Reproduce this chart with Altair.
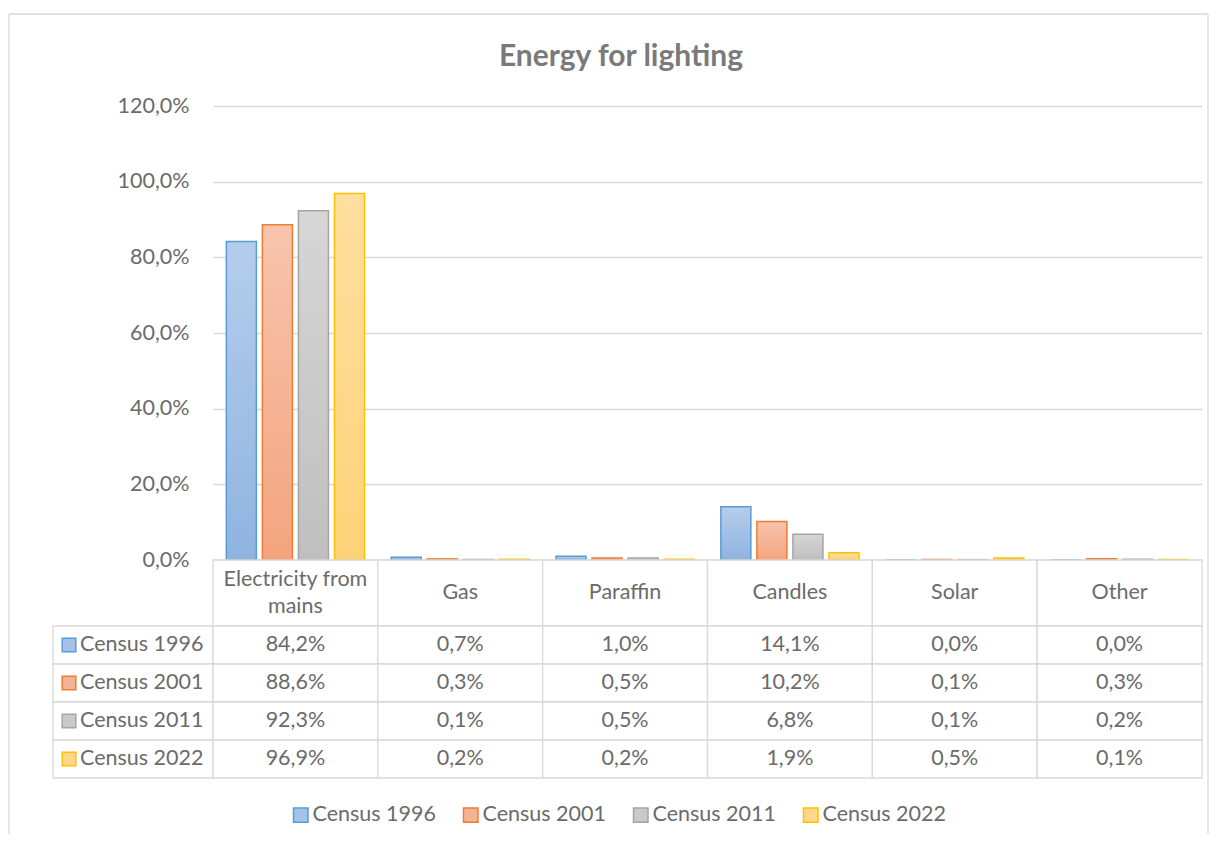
import altair as alt
import pandas as pd

title_text = "Energy for lighting"
categories = ["Electricity from mains", "Gas", "Paraffin", "Candles", "Solar", "Other"]
header_labels = ["Electricity from\nmains", "Gas", "Paraffin", "Candles", "Solar", "Other"]
series = ["Census 1996", "Census 2001", "Census 2011", "Census 2022"]
values_1996 = [84.2, 0.7, 1.0, 14.1, 0.0, 0.0]
values_2001 = [88.6, 0.3, 0.5, 10.2, 0.1, 0.3]
values_2011 = [92.3, 0.1, 0.5, 6.8, 0.1, 0.2]
values_2022 = [96.9, 0.2, 0.2, 1.9, 0.5, 0.1]
y_ticks = [0, 20, 40, 60, 80, 100, 120]

fill_colors = ["#A5C2E8", "#F5B396", "#C9C9C9", "#FED78A"]
grad_top = ["#B5CDEB", "#F7C4AD", "#D6D6D6", "#FEDFA0"]
grad_bottom = ["#8FB4E0", "#F4A47E", "#BFBFBF", "#FED278"]
stroke_colors = ["#5B9BD5", "#ED7D31", "#A5A5A5", "#FFC000"]

rows = []
for s, vals in zip(series, [values_1996, values_2001, values_2011, values_2022]):
    for c, v in zip(categories, vals):
        rows.append({"category": c, "series": s, "value": v})
df = pd.DataFrame(rows)
header_df = pd.DataFrame({"category": categories, "label": header_labels})
series_df = pd.DataFrame({"series": series})
title_df = pd.DataFrame({"title": [title_text]})
one_df = pd.DataFrame({"k": [0]})

FONT = "Lato"
TXT = "#6B6B6B"
GRID = "#D9D9D9"
FS = 21.5
W = 989
PCT = "replace(format(datum.value, '.1f'), '.', ',') + '%'"

x_scale = alt.Scale(domain=categories, paddingInner=0, paddingOuter=0)
fill_scale = alt.Scale(domain=series, range=fill_colors)
stroke_scale = alt.Scale(domain=series, range=stroke_colors)
legend = alt.Legend(
    title=None, orient="none", direction="horizontal", legendX=77, legendY=698,
    symbolType="square", symbolSize=210, symbolStrokeWidth=1.5,
    labelFontSize=FS, labelColor=TXT, labelFont=FONT, columnPadding=24, labelOffset=1,
)

def xenc():
    return alt.X("category:N", scale=x_scale, sort=categories, axis=None)

x_bar = alt.X("category:N", scale=x_scale, sort=categories,
              axis=alt.Axis(labels=False, ticks=False, title=None, domainColor=GRID, domainWidth=1.3))
xoff = alt.XOffset("series:N", sort=series,
                   scale=alt.Scale(domain=series, paddingInner=0.167, paddingOuter=0.37))
y_bar = alt.Y("value:Q", scale=alt.Scale(domain=[0, 120], nice=False),
              axis=alt.Axis(values=y_ticks, labelExpr=PCT, title=None, domain=False, ticks=False,
                            gridColor=GRID, gridWidth=1.3, labelFontSize=FS, labelColor=TXT,
                            labelFont=FONT, labelPadding=24))

# chart-area frame (top, left, right edges) and title
frame_top = alt.Chart(one_df).mark_rule(color=GRID, strokeWidth=1.3).encode(
    x=alt.value(-204), x2=alt.value(995), y=alt.value(-92))
frame_left = alt.Chart(one_df).mark_rule(color=GRID, strokeWidth=1.3).encode(
    x=alt.value(-204), y=alt.value(-92), y2=alt.value(728))
frame_right = alt.Chart(one_df).mark_rule(color=GRID, strokeWidth=1.3).encode(
    x=alt.value(995), y=alt.value(-92), y2=alt.value(728))
title_mark = alt.Chart(title_df).mark_text(
    fontSize=30, fontWeight="bold", color="#7A7A7A", font=FONT, baseline="alphabetic", align="center"
).encode(x=alt.value(408), y=alt.value(-40), text="title:N")

bar_layers = []
for s, top, bottom in zip(series, grad_top, grad_bottom):
    grad = alt.Gradient(gradient="linear", x1=0, x2=0, y1=0, y2=1,
                        stops=[alt.GradientStop(color=top, offset=0),
                               alt.GradientStop(color=bottom, offset=1)])
    bar_layers.append(
        alt.Chart(df).transform_filter(alt.datum.series == s).mark_bar(strokeWidth=1.5, fill=grad).encode(
            x=x_bar, xOffset=xoff, y=y_bar,
            stroke=alt.Stroke("series:N", scale=stroke_scale, legend=legend, sort=series),
        )
    )
bars = alt.layer(*bar_layers, frame_top, frame_left, frame_right, title_mark).properties(width=W, height=454)

header_cells = alt.Chart(header_df).transform_calculate(row="'h'").mark_rect(
    fill="white", stroke=GRID, strokeWidth=1.3
).encode(x=xenc(), y=alt.Y("row:N", axis=None, scale=alt.Scale(paddingInner=0, paddingOuter=0)))
header_text_one = alt.Chart(header_df).transform_filter(
    "indexof(datum.label, '\\n') < 0"
).mark_text(fontSize=FS, color=TXT, font=FONT, baseline="middle").encode(x=xenc(), text="label:N")
header_text_two = alt.Chart(header_df).transform_filter(
    "indexof(datum.label, '\\n') >= 0"
).mark_text(fontSize=FS, color=TXT, font=FONT, lineBreak="\n", lineHeight=27, baseline="middle",
            dy=-13.5).encode(x=xenc(), text="label:N")
header = alt.layer(header_cells, header_text_one, header_text_two).properties(width=W, height=66)

y_row = alt.Y("series:N", sort=series, scale=alt.Scale(domain=series, paddingInner=0, paddingOuter=0), axis=None)

cells = alt.Chart(df).mark_rect(fill="white", stroke=GRID, strokeWidth=1.3).encode(x=xenc(), y=y_row)
cell_text = alt.Chart(df).transform_calculate(
    label="replace(format(datum.value, '.1f'), '.', ',') + '%'"
).mark_text(fontSize=FS, color=TXT, font=FONT).encode(x=xenc(), y=y_row, text="label:N")
row_cells = alt.Chart(series_df).mark_rect(fill="white", stroke=GRID, strokeWidth=1.3).encode(
    x=alt.value(-160), x2=alt.value(0), y=y_row)
row_squares = alt.Chart(series_df).mark_point(shape="square", filled=True, size=185, strokeWidth=1.5, opacity=1).encode(
    x=alt.value(-144), y=y_row,
    fill=alt.Fill("series:N", scale=fill_scale, legend=legend, sort=series),
    stroke=alt.Stroke("series:N", scale=stroke_scale, legend=legend, sort=series))
row_text = alt.Chart(series_df).mark_text(align="left", fontSize=FS, color=TXT, font=FONT).encode(
    x=alt.value(-133), y=y_row, text="series:N")
table = alt.layer(row_cells, cells, cell_text, row_squares, row_text).properties(width=W, height=152)

chart = alt.vconcat(bars, header, table, spacing=0, bounds="flush").properties(
    padding={"left": 0, "top": 5, "right": 0, "bottom": 0},
).configure(font=FONT).configure_view(strokeWidth=0, stroke="transparent")

chart.save("out.html", embed_options={"renderer": "svg", "actions": False})
